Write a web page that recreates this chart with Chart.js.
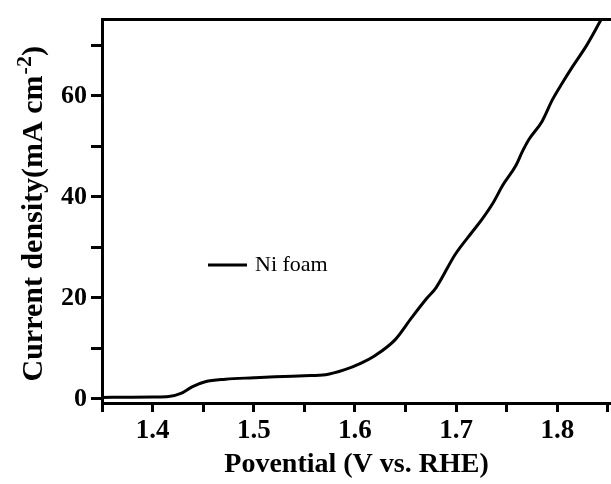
<!DOCTYPE html>
<html lang="en">
<head>
<meta charset="UTF-8">
<title>Ni foam polarization curve</title>
<script src="https://cdn.jsdelivr.net/npm/chart.js"></script>
<style>
  html, body { margin: 0; padding: 0; background: #fff; }
  #wrap { width: 611px; height: 484px; }
</style>
</head>
<body>
<div id="wrap"><canvas id="lsv"></canvas></div>
<script>
// values
const potential = [1.35, 1.38, 1.40, 1.416, 1.428, 1.439, 1.452, 1.472, 1.50, 1.521, 1.55, 1.571,
  1.590, 1.605, 1.620, 1.640, 1.656, 1.670, 1.680, 1.699, 1.716, 1.726, 1.737, 1.746,
  1.759, 1.765, 1.772, 1.785, 1.795, 1.805, 1.815, 1.828, 1.843];
const current = [0.3, 0.35, 0.4, 0.5, 1.1, 2.4, 3.4, 3.9, 4.2, 4.4, 4.6, 4.8,
  5.8, 7.0, 8.6, 11.8, 16.1, 19.7, 22.0, 28.6, 33.1, 35.7, 39.0, 42.3,
  46.2, 48.8, 51.4, 55.0, 59.2, 62.6, 65.8, 69.7, 75.0];
const seriesName = 'Ni foam';

const xMajor = [1.4, 1.5, 1.6, 1.7, 1.8];
const xMinor = [1.35, 1.45, 1.55, 1.65, 1.75, 1.85];
const yMajor = [0, 20, 40, 60];
const yMinor = [10, 30, 50, 70];

const xTitle = 'Povential (V vs. RHE)';
const yTitle = ['Current density(mA cm', '-2', ')'];  // text, superscript, closing

const serif = '"Liberation Serif", "Times New Roman", serif';

// legend inside the plot + y title with a real superscript
const extras = {
  id: 'extras',
  afterDraw(chart) {
    const ctx = chart.ctx;
    const ds = chart.data.datasets[0];
    const y = 265;
    ctx.save();
    ctx.strokeStyle = ds.borderColor;
    ctx.lineWidth = 3;
    ctx.beginPath();
    ctx.moveTo(208, y);
    ctx.lineTo(247, y);
    ctx.stroke();
    ctx.fillStyle = '#000';
    ctx.font = '22px ' + serif;
    ctx.textBaseline = 'middle';
    ctx.fillText(ds.label, 255, y);
    ctx.restore();

    // y axis title, rotated
    const big = 'bold 30px ' + serif;
    const small = 'bold 22px ' + serif;
    ctx.save();
    ctx.fillStyle = '#000';
    ctx.textBaseline = 'alphabetic';
    ctx.font = big;
    const w1 = ctx.measureText(yTitle[0]).width;
    const w3 = ctx.measureText(yTitle[2]).width;
    ctx.font = small;
    const w2 = ctx.measureText(yTitle[1]).width;
    const total = w1 + w2 + w3;
    const cy = (chart.chartArea.top + chart.chartArea.bottom) / 2 + 3;
    ctx.translate(42, cy);
    ctx.rotate(-Math.PI / 2);
    let x0 = -total / 2;
    ctx.font = big;
    ctx.fillText(yTitle[0], x0, 0);
    ctx.font = small;
    ctx.fillText(yTitle[1], x0 + w1 + 1, -11);
    ctx.font = big;
    ctx.fillText(yTitle[2], x0 + w1 + w2 + 1, 0);
    ctx.restore();
  }
};

new Chart(document.getElementById('lsv'), {
  type: 'line',
  data: {
    datasets: [{
      label: seriesName,
      data: potential.map((v, i) => ({ x: v, y: current[i] })),
      borderColor: '#000',
      borderWidth: 3,
      pointRadius: 0,
      cubicInterpolationMode: 'monotone',
      fill: false
    }]
  },
  options: {
    responsive: true,
    maintainAspectRatio: false,
    animation: false,
    layout: { padding: { top: 16, right: 0, left: 0, bottom: 0 } },
    plugins: { legend: { display: false }, tooltip: { enabled: false } },
    scales: {
      x: {
        type: 'linear',
        min: 1.35,
        max: 1.853,
        afterFit(s) { s.height = 81; },
        afterBuildTicks(s) {
          s.ticks = xMajor.concat(xMinor).sort((a, b) => a - b).map(v => ({ value: v }));
        },
        ticks: {
          color: '#000',
          font: { family: serif, size: 27, weight: 'bold' },
          padding: 3,
          maxRotation: 0,
          autoSkip: false,
          callback: v => xMajor.includes(v) ? v.toFixed(1) : ''
        },
        grid: { drawOnChartArea: false, color: '#000', tickLength: 9, tickWidth: 3 },
        border: { color: '#000', width: 3 },
        title: {
          display: true,
          text: xTitle,
          color: '#000',
          font: { family: serif, size: 28, weight: 'bold' },
          padding: { top: 0, bottom: 2 }
        }
      },
      xTop: {
        type: 'linear',
        position: 'top',
        min: 1.35,
        max: 1.853,
        afterFit(s) { s.height = 0; },
        ticks: { display: false },
        grid: { display: false },
        border: { display: true, color: '#000', width: 3 }
      },
      y: {
        min: -0.8,
        max: 75.1,
        afterFit(s) { s.width = 102; },
        afterBuildTicks(s) {
          s.ticks = yMajor.concat(yMinor).sort((a, b) => a - b).map(v => ({ value: v }));
        },
        ticks: {
          color: '#000',
          font: { family: serif, size: 26, weight: 'bold' },
          padding: 4,
          autoSkip: false,
          callback: v => yMajor.includes(v) ? String(v) : ''
        },
        grid: { drawOnChartArea: false, color: '#000', tickLength: 11, tickWidth: 3 },
        border: { color: '#000', width: 3 },
        title: { display: false }
      }
    }
  },
  plugins: [extras]
});
</script>
</body>
</html>
